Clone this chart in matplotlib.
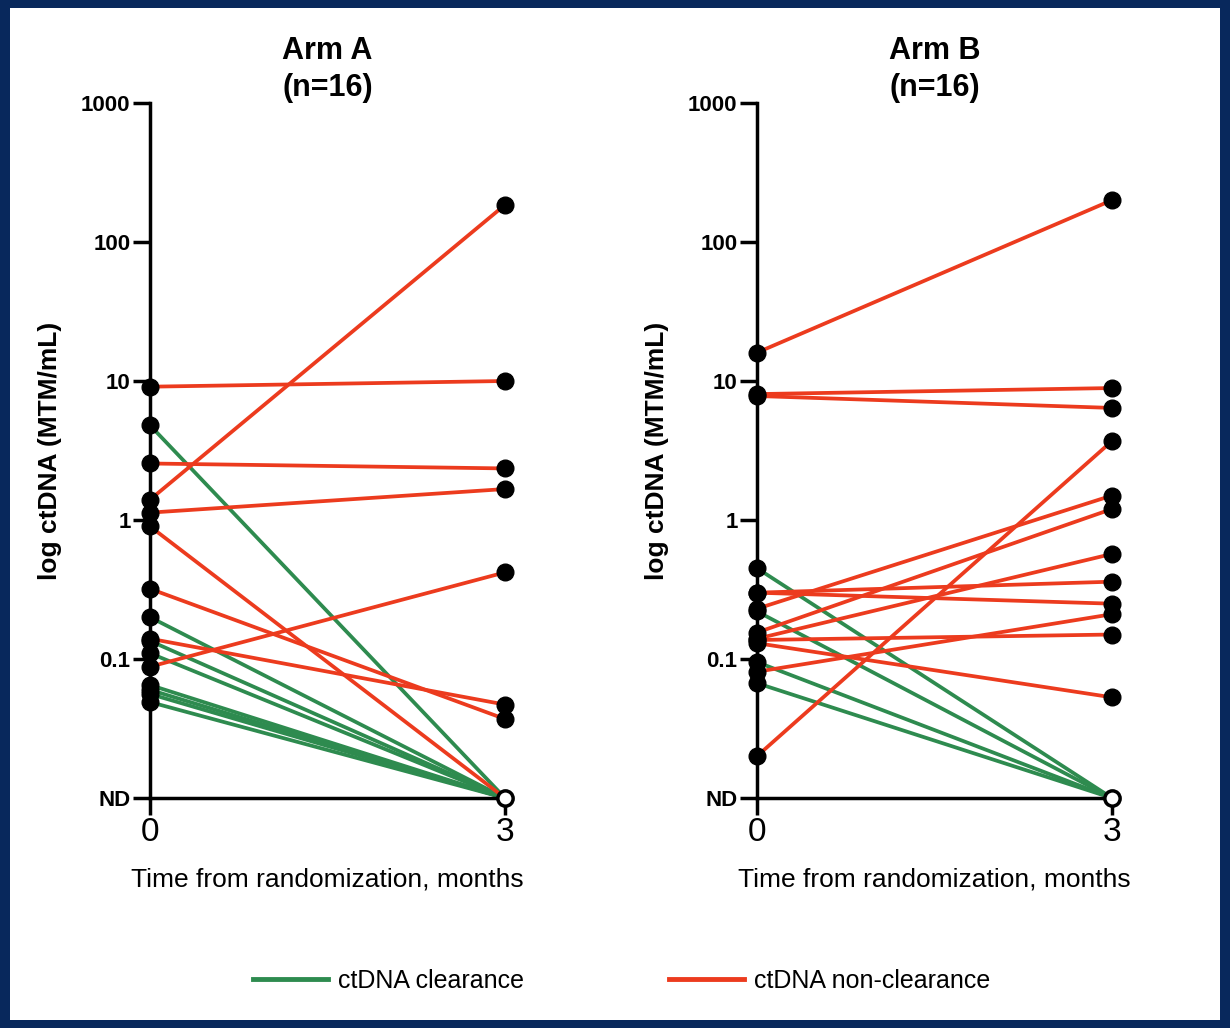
import matplotlib
matplotlib.use('Agg')
import matplotlib.pyplot as plt
from matplotlib.lines import Line2D
from matplotlib.patches import Rectangle

plt.rcParams['font.family'] = ['Liberation Sans', 'DejaVu Sans']

ND = 0.01  # not detected, plotted on the floor of the axis

# Arm A: ctDNA at month 0 and month 3
arm_a_red_0 = [9.1, 1.4, 2.55, 1.13, 0.9, 0.32, 0.14, 0.088]
arm_a_red_3 = [10, 185, 2.35, 1.67, ND, 0.037, 0.047, 0.42]
arm_a_green_0 = [4.8, 0.2, 0.135, 0.11, 0.065, 0.06, 0.056, 0.049]

# Arm B
arm_b_red_0 = [16, 8.05, 7.8, 0.02, 0.30, 0.30, 0.23, 0.155, 0.14, 0.137, 0.13, 0.081]
arm_b_red_3 = [200, 8.9, 6.4, 3.7, 0.36, 0.25, 1.5, 1.2, 0.57, 0.15, 0.053, 0.21]
arm_b_green_0 = [0.45, 0.22, 0.095, 0.067]

titles = ['Arm A\n(n=16)', 'Arm B\n(n=16)']
ytick_vals = [ND, 0.1, 1, 10, 100, 1000]
ytick_labels = ['ND', '0.1', '1', '10', '100', '1000']

RED = '#ec3b1e'
GREEN = '#2e8b4f'

fig = plt.figure(figsize=(12.3, 10.28), dpi=100, facecolor='#08285c')
fig.patches.append(Rectangle((10 / 1230, 8 / 1028), 1210 / 1230, 1012 / 1028,
                             transform=fig.transFigure, facecolor='white',
                             edgecolor='none', zorder=-1))

lefts = [150 / 1230, 757 / 1230]
arms = [(arm_a_red_0, arm_a_red_3, arm_a_green_0),
        (arm_b_red_0, arm_b_red_3, arm_b_green_0)]

for left, title, (red0, red3, green0) in zip(lefts, titles, arms):
    ax = fig.add_axes([left, 230 / 1028, 355 / 1230, 695 / 1028])
    ax.set_yscale('log')

    # green: cleared at month 3
    for v in green0:
        ax.plot([0, 3], [v, ND], color=GREEN, lw=2.7, zorder=2, clip_on=False)
    for a, b in zip(red0, red3):
        ax.plot([0, 3], [a, b], color=RED, lw=2.7, zorder=3, clip_on=False)

    starts = red0 + green0
    ax.plot([0] * len(starts), starts, 'o', color='black', ms=12, zorder=5, clip_on=False)
    ends = [v for v in red3 if v > ND]
    ax.plot([3] * len(ends), ends, 'o', color='black', ms=12, zorder=5, clip_on=False)
    ax.plot([3], [ND], 'o', mfc='white', mec='black', mew=2.5, ms=11, zorder=6, clip_on=False)

    ax.set_xlim(0, 3)
    ax.set_ylim(ND, 1000)
    ax.set_yticks(ytick_vals)
    ax.set_yticklabels(ytick_labels, fontweight='bold', fontsize=16)
    ax.minorticks_off()
    ax.set_xticks([0, 3])
    ax.set_xticklabels(['0', '3'], fontsize=24)
    ax.tick_params(axis='y', length=12, width=2.5, pad=2)
    ax.tick_params(axis='x', length=12, width=2.5, pad=2)
    for s in ['top', 'right']:
        ax.spines[s].set_visible(False)
    for s in ['left', 'bottom']:
        ax.spines[s].set_linewidth(2.5)
    ax.set_xlabel('Time from randomization, months', fontsize=19, labelpad=14)
    ax.set_ylabel('log ctDNA (MTM/mL)', fontsize=19, fontweight='bold', labelpad=14)
    ax.set_title(title, fontsize=22, fontweight='bold', pad=2, linespacing=1.3)

handles = [Line2D([], [], color=GREEN, lw=3.5), Line2D([], [], color=RED, lw=3.5)]
fig.legend(handles, ['ctDNA clearance', 'ctDNA non-clearance'],
           loc='center', bbox_to_anchor=(0.505, 1 - 981 / 1028), ncol=2,
           frameon=False, fontsize=18, handlelength=3.0, handletextpad=0.4,
           columnspacing=5.8)

fig.savefig('out.png', dpi=100, facecolor=fig.get_facecolor())
